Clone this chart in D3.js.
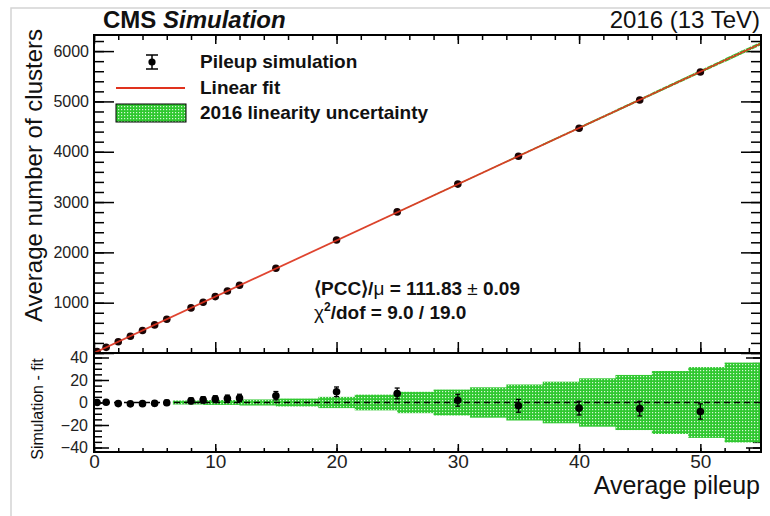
<!DOCTYPE html>
<html>
<head>
<meta charset="utf-8">
<script src="https://cdn.jsdelivr.net/npm/d3@7"></script>
<style>
  body { margin: 0; background: #fff; }
  text { font-family: "Liberation Sans", Arial, sans-serif; fill: #111; }
  .tick line { stroke: #000; stroke-width: 1.5; }
  .tick text { font-family: "Liberation Sans", Arial, sans-serif; fill: #222; }
</style>
</head>
<body>
<svg width="770" height="516"></svg>
<script>
const svg = d3.select('svg');
const width = +svg.attr('width');
const height = +svg.attr('height');

// simulated points
const pileup = [0.25, 1, 2, 3, 4, 5, 6, 8, 9, 10, 11, 12, 15, 20, 25, 30, 35, 40, 45, 50];
const clusters = [28.0, 112.1, 222.7, 334.3, 446.3, 558.4, 670.7, 896.1, 1008.8, 1121.3,
                  1233.6, 1346.0, 1683.5, 2246.1, 2803.8, 3356.9, 3911.1, 4468.2, 5026.9, 5583.5];
const clusterErr = [1.0, 1.2, 1.5, 1.7, 1.9, 2.1, 2.3, 2.6, 2.8, 3.0,
                    3.1, 3.3, 3.7, 4.3, 4.8, 5.3, 5.7, 6.1, 6.5, 6.8];

// fit result
const fitSlope = 111.83;
const fitRange = [0, 55];

// linearity uncertainty band (bin edges in pileup, half width in clusters)
const bandEdges = [6.5, 9, 12, 15, 18.5, 21.5, 25, 28, 31, 34, 37, 40, 43, 46, 49, 52, 55];
const bandHalf = [1.8, 2.2, 2.7, 3.5, 5, 7, 9.5, 11.5, 13.5, 16, 18.5, 21.5, 24.5, 28, 31.5, 35.5];

const topTicks = [0, 1000, 2000, 3000, 4000, 5000, 6000];
const ratioTicks = [-40, -20, 0, 20, 40];
const xTicks = [0, 10, 20, 30, 40, 50];

const plotLeft = 94, plotRight = 761;
const topY0 = 35, topY1 = 353, lowY1 = 452;

const xScale = d3.scaleLinear().domain([0, 55]).range([plotLeft, plotRight]);
const yTop = d3.scaleLinear().domain([0, 6320]).range([topY1, topY0]);
const yLow = d3.scaleLinear().domain([-44, 44]).range([lowY1, topY1]);

const fit = x => fitSlope * x;
const residuals = clusters.map((c, i) => c - fit(pileup[i]));
const points = pileup.map((x, i) => ({x, y: clusters[i], r: residuals[i], e: clusterErr[i]}));
const bins = bandHalf.map((h, i) => ({x0: bandEdges[i], x1: bandEdges[i + 1], h}));

// light page frame
svg.append('path')
    .attr('d', `M11,${height} V8 H${width}`)
    .attr('fill', 'none')
    .attr('stroke', '#d4d4d4')
    .attr('stroke-width', 1.5);

const defs = svg.append('defs');
const pat = defs.append('pattern')
    .attr('id', 'hatch')
    .attr('width', 3).attr('height', 3)
    .attr('patternUnits', 'userSpaceOnUse');
pat.append('rect').attr('width', 3).attr('height', 3).attr('fill', '#30c830');
pat.append('rect').attr('x', 1).attr('y', 1).attr('width', 1.2).attr('height', 1.2).attr('fill', '#d8f5d8');

const clip = (id, y0, y1) => defs.append('clipPath').attr('id', id)
    .append('rect').attr('x', plotLeft).attr('y', y0)
    .attr('width', plotRight - plotLeft).attr('height', y1 - y0);
clip('clipTop', topY0, topY1);
clip('clipLow', topY1, lowY1);

// ---------- ticks ----------
const drawAxis = (axis, tx, ty, fontSize) => {
    const g = svg.append('g')
        .attr('transform', `translate(${tx},${ty})`)
        .call(axis);
    g.select('.domain').remove();
    g.selectAll('text').attr('font-size', fontSize);
    return g;
};
const range = (a, b, s) => d3.range(a, b + s / 2, s);

// top panel
drawAxis(d3.axisLeft(yTop).tickValues(topTicks).tickSize(-20).tickPadding(5)
    .tickFormat(d => d === 0 ? '' : d), plotLeft, 0, 16);
drawAxis(d3.axisLeft(yTop).tickValues(range(0, 6200, 200)).tickSize(-10).tickFormat(''), plotLeft, 0);
drawAxis(d3.axisRight(yTop).tickValues(topTicks).tickSize(-20).tickFormat(''), plotRight, 0);
drawAxis(d3.axisRight(yTop).tickValues(range(0, 6200, 200)).tickSize(-10).tickFormat(''), plotRight, 0);
drawAxis(d3.axisTop(xScale).tickValues(xTicks).tickSize(-9).tickFormat(''), 0, topY0);
drawAxis(d3.axisTop(xScale).tickValues(range(0, 54, 2)).tickSize(-5).tickFormat(''), 0, topY0);
drawAxis(d3.axisBottom(xScale).tickValues(xTicks).tickSize(-11).tickFormat(''), 0, topY1);
drawAxis(d3.axisBottom(xScale).tickValues(range(0, 54, 2)).tickSize(-5).tickFormat(''), 0, topY1);

// lower panel
drawAxis(d3.axisLeft(yLow).tickValues(ratioTicks).tickSize(-15).tickPadding(6), plotLeft, 0, 16);
drawAxis(d3.axisLeft(yLow).tickValues(range(-40, 40, 5)).tickSize(-8).tickFormat(''), plotLeft, 0);
drawAxis(d3.axisRight(yLow).tickValues(ratioTicks).tickSize(-15).tickFormat(''), plotRight, 0);
drawAxis(d3.axisRight(yLow).tickValues(range(-40, 40, 5)).tickSize(-8).tickFormat(''), plotRight, 0);
drawAxis(d3.axisBottom(xScale).tickValues(xTicks).tickSize(-8).tickPadding(2), 0, lowY1, 19);
drawAxis(d3.axisBottom(xScale).tickValues(range(0, 54, 2)).tickSize(-4).tickFormat(''), 0, lowY1);

// ---------- top panel ----------
const gTop = svg.append('g').attr('clip-path', 'url(#clipTop)');

gTop.selectAll('.band').data(bins).enter().append('path')
    .attr('fill', 'url(#hatch)')
    .attr('d', b => `M${xScale(b.x0)},${yTop(fit(b.x0) + b.h)} L${xScale(b.x1)},${yTop(fit(b.x1) + b.h)}
        L${xScale(b.x1)},${yTop(fit(b.x1) - b.h)} L${xScale(b.x0)},${yTop(fit(b.x0) - b.h)} Z`);

gTop.selectAll('.err').data(points).enter().append('line')
    .attr('x1', d => xScale(d.x)).attr('x2', d => xScale(d.x))
    .attr('y1', d => yTop(d.y - d.e)).attr('y2', d => yTop(d.y + d.e))
    .attr('stroke', '#000');

gTop.selectAll('circle').data(points).enter().append('circle')
    .attr('cx', d => xScale(d.x))
    .attr('cy', d => yTop(d.y))
    .attr('r', 3.8)
    .attr('fill', '#1a0505');

gTop.append('line')
    .attr('x1', xScale(fitRange[0])).attr('y1', yTop(fit(fitRange[0])))
    .attr('x2', xScale(fitRange[1])).attr('y2', yTop(fit(fitRange[1])))
    .attr('stroke', '#e0321e')
    .attr('stroke-width', 1.8)
    .attr('stroke-opacity', 0.9);

// ---------- lower panel ----------
const gLow = svg.append('g').attr('clip-path', 'url(#clipLow)');

gLow.selectAll('.band').data(bins).enter().append('rect')
    .attr('x', b => xScale(b.x0))
    .attr('width', b => xScale(b.x1) - xScale(b.x0) + 0.5)
    .attr('y', b => yLow(b.h))
    .attr('height', b => yLow(-b.h) - yLow(b.h))
    .attr('fill', 'url(#hatch)');

gLow.append('line')
    .attr('x1', plotLeft).attr('x2', plotRight)
    .attr('y1', yLow(0)).attr('y2', yLow(0))
    .attr('stroke', '#000')
    .attr('stroke-width', 1.4)
    .attr('stroke-dasharray', '6,4');

const errG = gLow.selectAll('.rerr').data(points).enter().append('g');
errG.append('line')
    .attr('x1', d => xScale(d.x)).attr('x2', d => xScale(d.x))
    .attr('y1', d => yLow(d.r - d.e)).attr('y2', d => yLow(d.r + d.e))
    .attr('stroke', '#000').attr('stroke-width', 1.3);
errG.selectAll('.cap').data(d => [d.r - d.e, d.r + d.e].map(v => ({x: d.x, v}))).enter().append('line')
    .attr('x1', c => xScale(c.x) - 2.5).attr('x2', c => xScale(c.x) + 2.5)
    .attr('y1', c => yLow(c.v)).attr('y2', c => yLow(c.v))
    .attr('stroke', '#000').attr('stroke-width', 1.3);
errG.append('circle')
    .attr('cx', d => xScale(d.x))
    .attr('cy', d => yLow(d.r))
    .attr('r', 3.8)
    .attr('fill', '#000');

// frames
[[topY0, topY1], [topY1, lowY1]].forEach(([a, b]) => {
    svg.append('rect')
        .attr('x', plotLeft).attr('y', a)
        .attr('width', plotRight - plotLeft).attr('height', b - a)
        .attr('fill', 'none')
        .attr('stroke', '#000')
        .attr('stroke-width', 2);
});

// ---------- texts ----------
const cms = svg.append('text').attr('x', 103).attr('y', 28).attr('font-size', 24);
cms.append('tspan').attr('font-weight', 'bold').text('CMS ');
cms.append('tspan').attr('font-weight', 'bold').attr('font-style', 'italic').text('Simulation');

svg.append('text')
    .attr('x', 760).attr('y', 28)
    .attr('text-anchor', 'end')
    .attr('font-size', 24)
    .text('2016 (13 TeV)');

svg.append('text')
    .attr('transform', 'translate(42,29) rotate(-90)')
    .attr('text-anchor', 'end')
    .attr('font-size', 24)
    .text('Average number of clusters');

svg.append('text')
    .attr('transform', 'translate(43,409) rotate(-90)')
    .attr('text-anchor', 'middle')
    .attr('font-size', 16)
    .text('Simulation - fit');

svg.append('text')
    .attr('x', 760).attr('y', 494)
    .attr('text-anchor', 'end')
    .attr('font-size', 25)
    .text('Average pileup');

// legend
const legendRows = [
    {label: 'Pileup simulation', y: 62},
    {label: 'Linear fit', y: 88},
    {label: '2016 linearity uncertainty', y: 113}
];
svg.selectAll('.leg').data(legendRows).enter().append('text')
    .attr('x', 200).attr('y', d => d.y + 6)
    .attr('font-size', 19)
    .attr('font-weight', 'bold')
    .text(d => d.label);

const lx = 152;
svg.append('line').attr('x1', lx).attr('x2', lx).attr('y1', 55).attr('y2', 69).attr('stroke', '#000').attr('stroke-width', 1.5);
[55, 69].forEach(y => svg.append('line').attr('x1', lx - 6).attr('x2', lx + 6).attr('y1', y).attr('y2', y)
    .attr('stroke', '#000').attr('stroke-width', 1.5));
svg.append('circle').attr('cx', lx).attr('cy', 62).attr('r', 3.6).attr('fill', '#000');
svg.append('line').attr('x1', 116).attr('x2', 185).attr('y1', 88).attr('y2', 88)
    .attr('stroke', '#e0321e').attr('stroke-width', 1.8);
svg.append('rect').attr('x', 116).attr('y', 104).attr('width', 70).attr('height', 18)
    .attr('fill', 'url(#hatch)').attr('stroke', '#000').attr('stroke-width', 1);

// fit result text
const t1 = svg.append('text').attr('x', 314).attr('y', 295).attr('font-size', 19).attr('font-weight', 'bold');
t1.append('tspan').text('\u27E8PCC\u27E9/');
t1.append('tspan').attr('font-weight', 'normal').text('\u03BC');
t1.append('tspan').text(` = ${fitSlope.toFixed(2)} `);
t1.append('tspan').attr('font-weight', 'normal').text('\u00B1');
t1.append('tspan').text(' 0.09');

const t2 = svg.append('text').attr('x', 314).attr('y', 319).attr('font-size', 19).attr('font-weight', 'bold');
t2.append('tspan').attr('font-weight', 'normal').text('\u03C7');
t2.append('tspan').attr('font-size', 12).attr('dy', -8).text('2');
t2.append('tspan').attr('dy', 8).text('/dof = 9.0 / 19.0');
</script>
</body>
</html>
